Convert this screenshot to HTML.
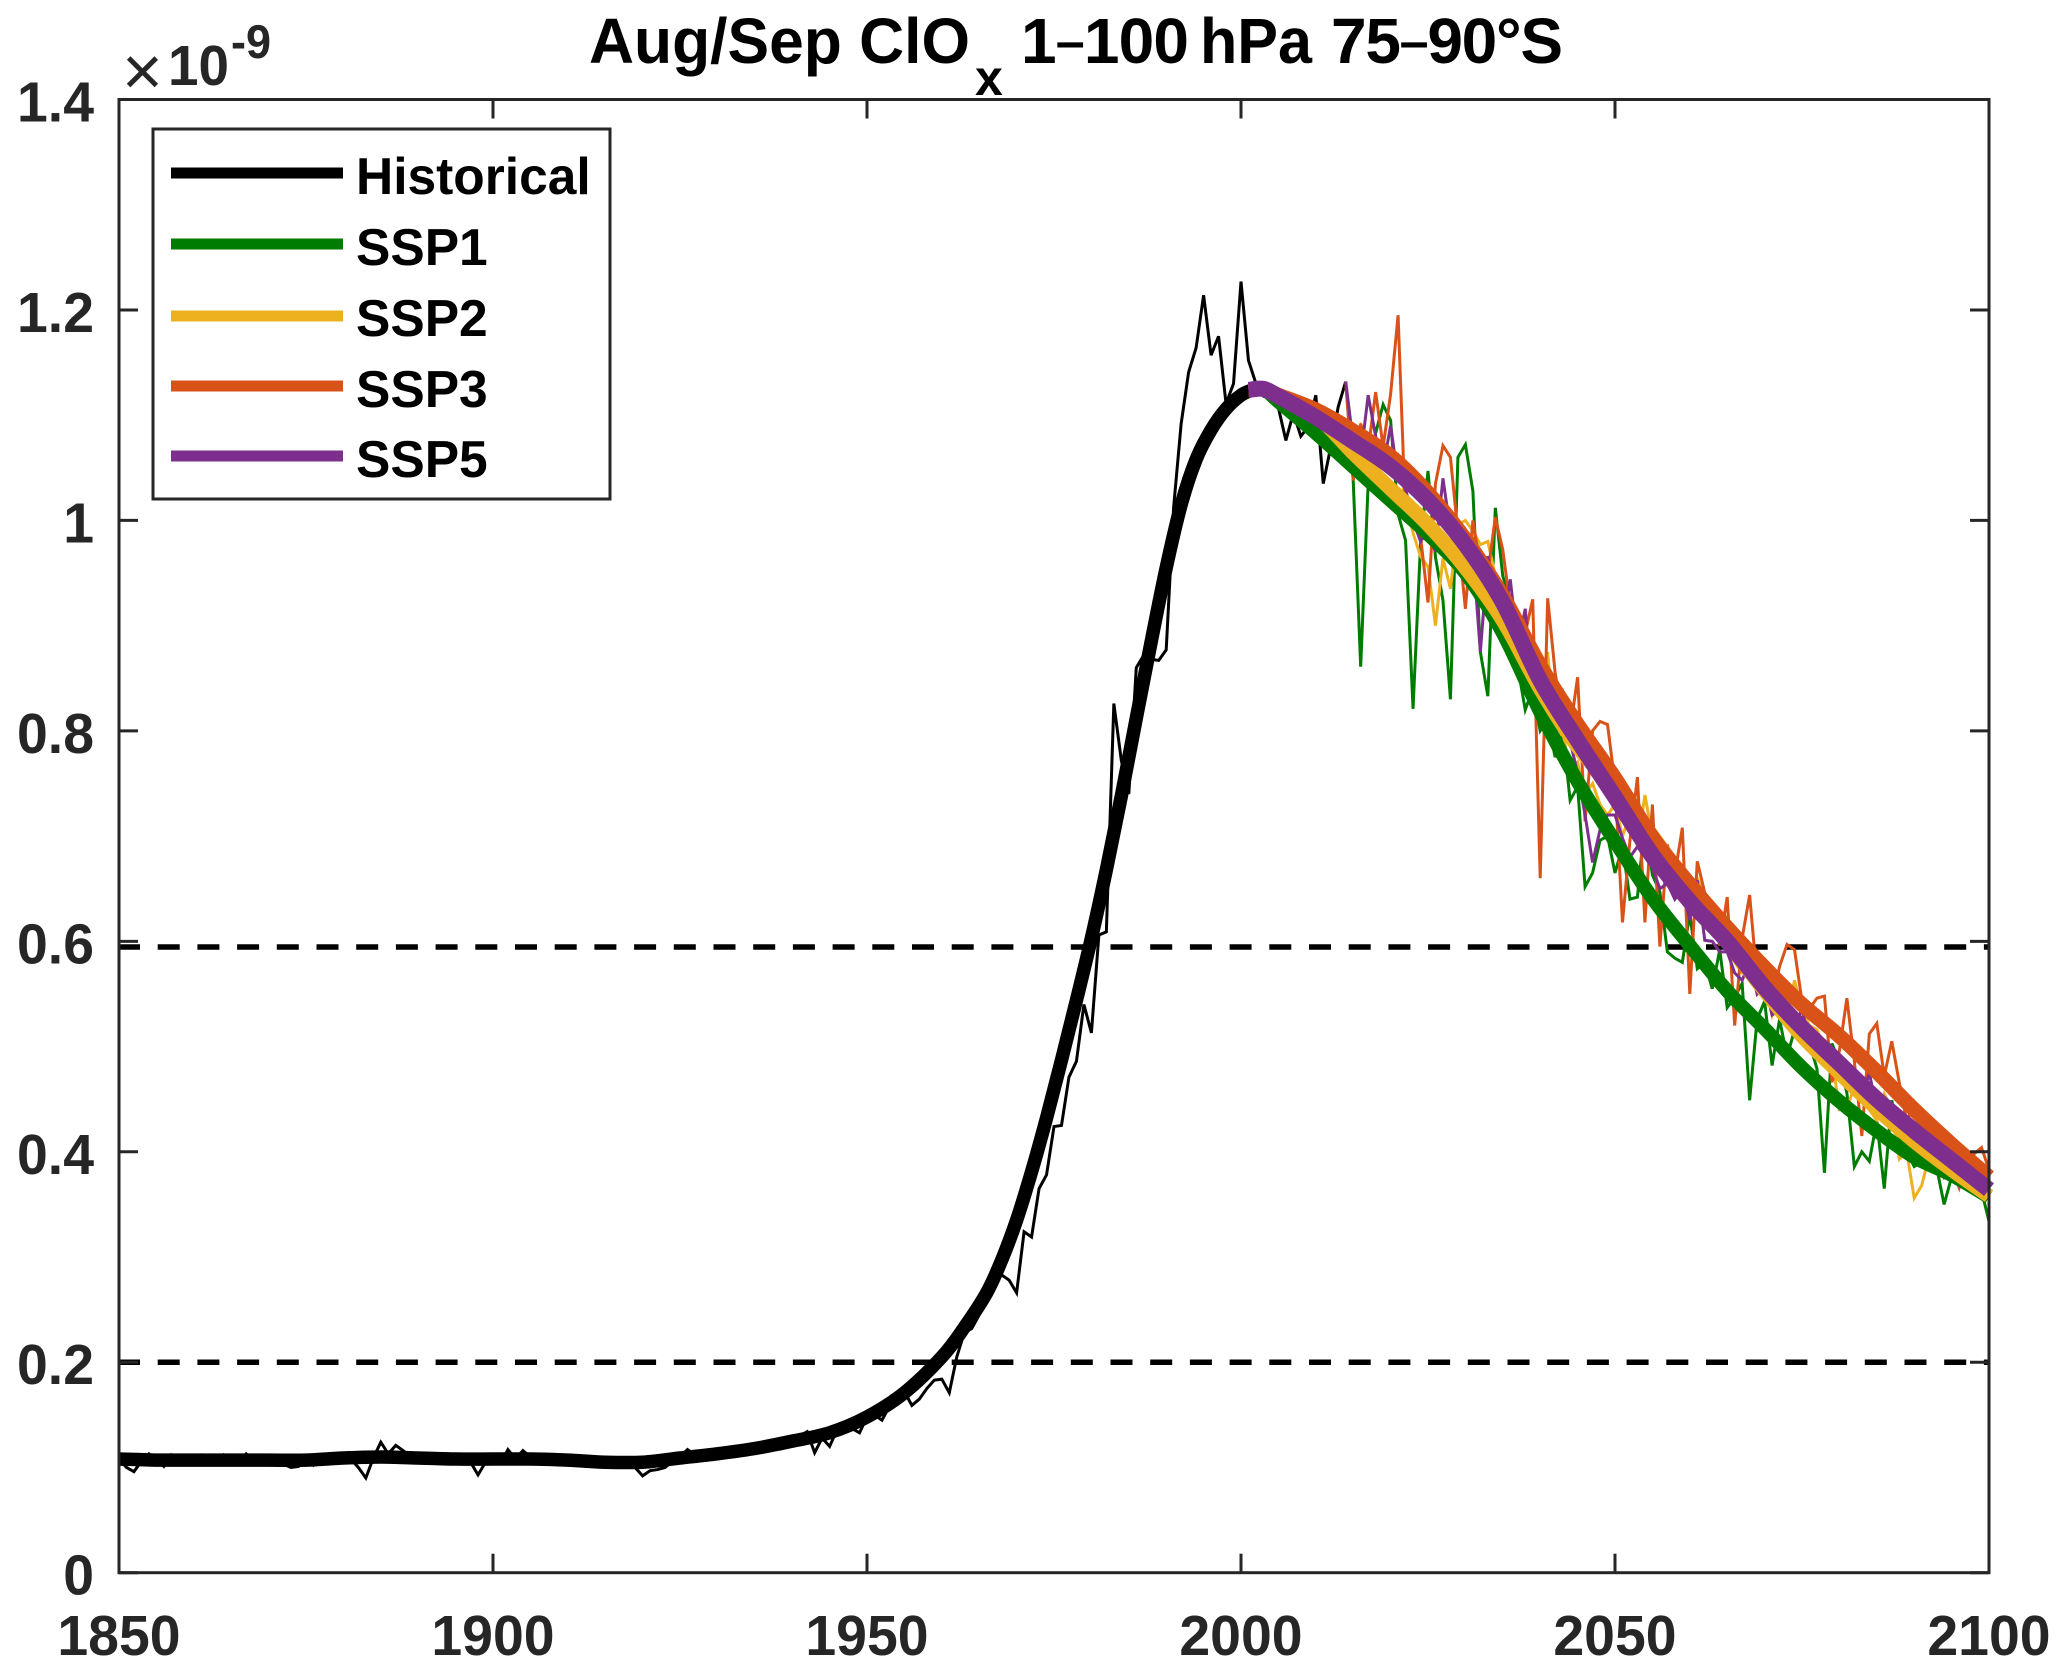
<!DOCTYPE html>
<html lang="en">
<head>
<meta charset="utf-8">
<title>Aug/Sep ClOx 1-100 hPa 75-90°S</title>
<style>
html,body{margin:0;padding:0;background:#fff}
svg{display:block}
text{font-family:"Liberation Sans",Arial,sans-serif}
</style>
</head>
<body>
<svg id="chart" xmlns="http://www.w3.org/2000/svg" width="2067" height="1673" viewBox="0 0 2067 1673">
  <rect x="0" y="0" width="2067" height="1673" fill="#fff"/>
  <g id="refs"></g>
  <g id="thin" fill="none" stroke-width="3" stroke-linejoin="miter"></g>
  <g id="thick" fill="none" stroke-linejoin="round"></g>
  <rect x="119" y="99.5" width="1870" height="1473.2" fill="none" stroke="#262626" stroke-width="3"/>
  <g id="ticks" stroke="#262626" stroke-width="3"></g>
  <g id="ticklabels" font-size="56.5" font-weight="700" fill="#262626"></g>

  <g font-weight="700" fill="#000">
    <text x="589" y="63" font-size="64" textLength="381" lengthAdjust="spacingAndGlyphs">Aug/Sep ClO</text>
    <text x="975" y="95" font-size="50">x</text>
    <text x="1021" y="63" font-size="64" textLength="168">1<tspan font-size="52" dy="-4">–</tspan><tspan dy="4">100</tspan></text>
    <text x="1200" y="63" font-size="64" textLength="112" lengthAdjust="spacingAndGlyphs">hPa</text>
    <text x="1331" y="63" font-size="64" textLength="232">75<tspan font-size="52" dy="-4">–</tspan><tspan dy="4">90°S</tspan></text>
  </g>

  <g fill="#262626">
    <text x="122" y="95" font-size="70">×</text>
    <text x="168" y="85" font-size="57" font-weight="700" textLength="61" lengthAdjust="spacingAndGlyphs">10</text>
    <text x="231" y="58" font-size="47" font-weight="700" textLength="40" lengthAdjust="spacingAndGlyphs">-9</text>
  </g>

  <g>
    <rect x="153" y="129" width="457" height="370" fill="#fff" stroke="#262626" stroke-width="3"/>
    <line x1="171" x2="343" y1="173" y2="173" stroke="#000" stroke-width="11"/>
    <line x1="171" x2="343" y1="244" y2="244" stroke="#007d00" stroke-width="11"/>
    <line x1="171" x2="343" y1="316" y2="316" stroke="#EDB120" stroke-width="11"/>
    <line x1="171" x2="343" y1="386" y2="386" stroke="#D95319" stroke-width="11"/>
    <line x1="171" x2="343" y1="456" y2="456" stroke="#7E2F8E" stroke-width="11"/>
    <g font-size="51.5" font-weight="700" fill="#000">
      <text x="356" y="194">Historical</text>
      <text x="356" y="265">SSP1</text>
      <text x="356" y="336">SSP2</text>
      <text x="356" y="407">SSP3</text>
      <text x="356" y="477">SSP5</text>
    </g>
  </g>
</svg>
<script>
// ---------- chart data (values in units of 1e-9) ----------
const xTickLabels = [1850, 1900, 1950, 2000, 2050, 2100];
const yTickValues = [0, 0.2, 0.4, 0.6, 0.8, 1, 1.2, 1.4];
const yTickText = ["0", "0.2", "0.4", "0.6", "0.8", "1", "1.2", "1.4"];
const refLevels = [0.2, 0.5946];

const histStartYear = 1850;
const historicalAnnual = [
 .108,.100,.096,.106,.113,.108,.101,.112,.107,.106,
 .110,.112,.108,.104,.112,.107,.105,.113,.107,.106,
 .108,.107,.103,.100,.101,.107,.102,.108,.106,.107,
 .110,.108,.100,.090,.109,.124,.113,.121,.116,.110,
 .109,.107,.112,.104,.104,.106,.107,.105,.093,.105,
 .108,.104,.117,.108,.116,.110,.108,.107,.109,.110,
 .111,.107,.108,.105,.103,.109,.107,.106,.104,.100,
 .092,.097,.098,.100,.106,.110,.117,.112,.109,.113,
 .113,.111,.116,.119,.117,.120,.119,.122,.124,.125,
 .122,.130,.134,.114,.128,.120,.136,.138,.137,.133,
 .148,.150,.145,.158,.170,.172,.159,.165,.175,.183,
 .184,.171,.205,.228,.232,.245,.262,.279,.283,.278,
 .266,.324,.319,.365,.378,.424,.425,.471,.486,.540,
 .513,.606,.609,.826,.772,.740,.860,.872,.868,.867,
 .877,1.013,1.092,1.141,1.164,1.214,1.157,1.175,1.111,1.130,
 1.227,1.152,1.130,1.118,1.116,1.107,1.076,1.102,1.080,1.089,
 1.119,1.035,1.070,1.108,1.132];

const sspStartYear = 2014;
const ssp1Annual = [
 1.132,1.038,.861,1.035,1.083,1.11,
 1.095,1.006,.981,.821,.977,1.047,.965,.924,.83,1.06,
 1.072,1.028,.875,.833,1.012,.947,.924,.861,.82,.84,
 .80,.81,.775,.80,.734,.747,.652,.665,.696,.70,
 .665,.69,.64,.642,.715,.663,.647,.59,.584,.58,
 .626,.574,.58,.555,.592,.537,.547,.56,.449,.526,
 .543,.482,.526,.49,.516,.506,.503,.479,.38,.503,
 .486,.456,.386,.4,.391,.429,.365,.449,.413,.40,
 .386,.39,.42,.385,.35,.376,.38,.383,.38,.363,
 .334];
const ssp2Annual = [
 1.132,1.075,1.09,1.07,1.06,1.05,
 1.045,1.06,1.02,.988,.966,.956,.90,.964,.935,.996,
 1.0,.99,.977,.98,.947,.925,.905,.885,.87,.89,
 .806,.875,.79,.80,.76,.77,.74,.75,.73,.72,
 .73,.70,.72,.69,.739,.70,.68,.66,.67,.66,
 .65,.66,.645,.62,.60,.605,.58,.57,.574,.566,
 .565,.53,.55,.53,.563,.535,.52,.516,.50,.49,
 .44,.441,.462,.45,.44,.43,.455,.44,.393,.40,
 .356,.368,.396,.40,.385,.38,.37,.37,.365,.36,
 .36];
const ssp3Annual = [
 1.132,1.038,1.092,1.067,1.122,1.07,
 1.12,1.195,1.003,1.0,.985,.922,1.035,1.071,1.06,.988,
 .916,1.0,.956,.95,1.003,.972,.918,.893,.893,.925,
 .66,.926,.855,.813,.80,.851,.714,.80,.809,.806,
 .75,.618,.696,.756,.618,.73,.595,.692,.663,.708,
 .55,.676,.646,.629,.596,.642,.52,.603,.644,.563,
 .563,.543,.576,.597,.592,.543,.536,.546,.548,.466,
 .496,.546,.486,.415,.512,.522,.472,.505,.466,.429,
 .446,.42,.413,.40,.376,.386,.366,.393,.398,.404,
 .383];
const ssp5Annual = [
 1.132,1.073,1.06,1.119,1.08,1.05,
 1.09,1.04,1.03,1.0,.98,.99,.97,1.04,.99,.96,
 .99,.97,.875,.966,.93,.90,.944,.88,.916,.83,
 .82,.80,.82,.836,.79,.76,.72,.675,.706,.72,
 .72,.698,.68,.69,.68,.67,.65,.655,.64,.65,
 .62,.658,.601,.60,.59,.59,.57,.563,.58,.55,
 .56,.53,.535,.53,.52,.535,.506,.51,.49,.48,
 .47,.46,.47,.45,.475,.44,.43,.43,.42,.41,
 .40,.40,.41,.39,.385,.38,.38,.37,.37,.37,
 .365];

const histSmoothYears = [1850,1855,1860,1865,1870,1875,1880,1885,1890,1895,1900,1905,1910,1915,1920,1925,1930,1935,1940,1945,1950,1955,1960,1963,1966,1968,1970,1972,1974,1976,1978,1980,1982,1984,1986,1988,1990,1992,1994,1996,1998,2000,2001.5];
const histSmooth = [.108,.107,.107,.107,.107,.107,.109,.110,.109,.108,.108,.108,.107,.105,.105,.109,.113,.118,.125,.133,.148,.171,.205,.233,.266,.297,.335,.381,.432,.487,.544,.603,.668,.738,.812,.885,.955,1.015,1.058,1.086,1.106,1.119,1.124];

const sspSmoothYears = [2001,2003,2005,2010,2015,2020,2025,2030,2035,2040,2045,2050,2055,2060,2065,2070,2075,2080,2085,2090,2095,2100];
const ssp1Smooth = [1.124,1.125,1.113,1.083,1.051,1.019,.987,.950,.893,.818,.752,.695,.641,.596,.553,.517,.480,.448,.420,.395,.378,.357];
const ssp2Smooth = [1.124,1.125,1.118,1.100,1.064,1.030,.996,.955,.905,.840,.785,.745,.700,.650,.600,.553,.510,.475,.441,.410,.383,.358];
const ssp3Smooth = [1.124,1.125,1.119,1.105,1.085,1.061,1.026,.982,.928,.862,.806,.755,.699,.654,.613,.575,.540,.510,.476,.440,.407,.376];
const ssp5Smooth = [1.124,1.125,1.118,1.098,1.075,1.051,1.019,.977,.922,.848,.791,.737,.682,.638,.600,.556,.518,.484,.450,.420,.392,.364];

// ---------- axis functions ----------
const NS = "http://www.w3.org/2000/svg";
const plotL = 119, plotR = 1989, plotT = 99.5, plotB = 1572.7;
const labelSqueeze = 0.98;
function xScale(year) { return plotL + (year - 1850) * (plotR - plotL) / 250; }
function yScale(val) { return plotB - val * (plotB - plotT) / 1.4; }
function make(tag, parent) {
  const el = document.createElementNS(NS, tag);
  parent.appendChild(el);
  return el;
}
function squeeze(label) {
  label.setAttribute("textLength", (label.getComputedTextLength() * labelSqueeze).toFixed(2));
  label.setAttribute("lengthAdjust", "spacingAndGlyphs");
}
function annualPath(start, values) {
  return values.map(function (v, i) {
    return (i ? "L" : "M") + xScale(start + i).toFixed(2) + " " + yScale(v).toFixed(2);
  }).join("");
}
function smoothPath(years, values) {
  const p = years.map(function (y, i) { return [xScale(y), yScale(values[i])]; });
  let d = "M" + p[0][0].toFixed(2) + " " + p[0][1].toFixed(2);
  for (let i = 0; i < p.length - 1; i++) {
    const a = p[Math.max(i - 1, 0)], b = p[i], c = p[i + 1], e = p[Math.min(i + 2, p.length - 1)];
    const c1x = b[0] + (c[0] - a[0]) / 6, c1y = b[1] + (c[1] - a[1]) / 6;
    const c2x = c[0] - (e[0] - b[0]) / 6, c2y = c[1] - (e[1] - b[1]) / 6;
    d += "C" + c1x.toFixed(2) + " " + c1y.toFixed(2) + " " + c2x.toFixed(2) + " " + c2y.toFixed(2) + " " + c[0].toFixed(2) + " " + c[1].toFixed(2);
  }
  return d;
}

// ---------- reference lines ----------
const refGroup = document.getElementById("refs");
refLevels.forEach(function (lvl) {
  const el = make("line", refGroup);
  
  
  el.setAttribute("x1", 118);
  el.setAttribute("x2", plotR);
  el.setAttribute("y1", yScale(lvl));
  el.setAttribute("y2", yScale(lvl));
  el.setAttribute("stroke", "#000");
  el.setAttribute("stroke-width", 5.5);
  el.setAttribute("stroke-dasharray", "22 17.7");
});

// ---------- thin annual series ----------
const thinGroup = document.getElementById("thin");
const thinHist = make("path", thinGroup);


thinHist.setAttribute("stroke", "#000");
thinHist.setAttribute("d", annualPath(histStartYear, historicalAnnual));

const thinSsp1 = make("path", thinGroup);


thinSsp1.setAttribute("stroke", "#007d00");
thinSsp1.setAttribute("d", annualPath(sspStartYear, ssp1Annual));

const thinSsp2 = make("path", thinGroup);


thinSsp2.setAttribute("stroke", "#EDB120");
thinSsp2.setAttribute("d", annualPath(sspStartYear, ssp2Annual));

const thinSsp3 = make("path", thinGroup);


thinSsp3.setAttribute("stroke", "#D95319");
thinSsp3.setAttribute("d", annualPath(sspStartYear, ssp3Annual));

const thinSsp5 = make("path", thinGroup);


thinSsp5.setAttribute("stroke", "#7E2F8E");
thinSsp5.setAttribute("d", annualPath(sspStartYear, ssp5Annual));

// ---------- thick smoothed series ----------
const thickGroup = document.getElementById("thick");
const thickHist = make("path", thickGroup);


thickHist.setAttribute("stroke", "#000");
thickHist.setAttribute("stroke-width", 13.5);
thickHist.setAttribute("d", smoothPath(histSmoothYears, histSmooth));

const thickSsp1 = make("path", thickGroup);


thickSsp1.setAttribute("stroke", "#007d00");
thickSsp1.setAttribute("stroke-width", 14);
thickSsp1.setAttribute("d", smoothPath(sspSmoothYears, ssp1Smooth));

const thickSsp2 = make("path", thickGroup);


thickSsp2.setAttribute("stroke", "#EDB120");
thickSsp2.setAttribute("stroke-width", 14.5);
thickSsp2.setAttribute("d", smoothPath(sspSmoothYears, ssp2Smooth));

const thickSsp3 = make("path", thickGroup);


thickSsp3.setAttribute("stroke", "#D95319");
thickSsp3.setAttribute("stroke-width", 15);
thickSsp3.setAttribute("d", smoothPath(sspSmoothYears, ssp3Smooth));

const thickSsp5 = make("path", thickGroup);


thickSsp5.setAttribute("stroke", "#7E2F8E");
thickSsp5.setAttribute("stroke-width", 16);
thickSsp5.setAttribute("d", smoothPath(sspSmoothYears, ssp5Smooth));

// ---------- ticks and tick labels ----------
const tickGroup = document.getElementById("ticks");
const labelGroup = document.getElementById("ticklabels");
const tickLen = 19;
xTickLabels.forEach(function (yr) {
  const px = xScale(yr);
  const bottomTick = make("line", tickGroup);
  
  
  bottomTick.setAttribute("x1", px);
  bottomTick.setAttribute("x2", px);
  bottomTick.setAttribute("y1", plotB);
  bottomTick.setAttribute("y2", plotB - tickLen);
  const topTick = make("line", tickGroup);
  
  
  topTick.setAttribute("x1", px);
  topTick.setAttribute("x2", px);
  topTick.setAttribute("y1", plotT);
  topTick.setAttribute("y2", plotT + tickLen);
  const label = make("text", labelGroup);
  
  
  label.setAttribute("x", px);
  label.setAttribute("y", 1655);
  label.setAttribute("text-anchor", "middle");
  label.textContent = String(yr);
  squeeze(label);
});
yTickValues.forEach(function (val, i) {
  const py = yScale(val);
  const leftTick = make("line", tickGroup);
  
  
  leftTick.setAttribute("x1", plotL);
  leftTick.setAttribute("x2", plotL + tickLen);
  leftTick.setAttribute("y1", py);
  leftTick.setAttribute("y2", py);
  const rightTick = make("line", tickGroup);
  
  
  rightTick.setAttribute("x1", plotR);
  rightTick.setAttribute("x2", plotR - tickLen);
  rightTick.setAttribute("y1", py);
  rightTick.setAttribute("y2", py);
  const label = make("text", labelGroup);
  
  
  label.setAttribute("x", 94);
  label.setAttribute("y", py + 22);
  label.setAttribute("text-anchor", "end");
  label.textContent = yTickText[i];
  squeeze(label);
});
</script>
</body>
</html>
